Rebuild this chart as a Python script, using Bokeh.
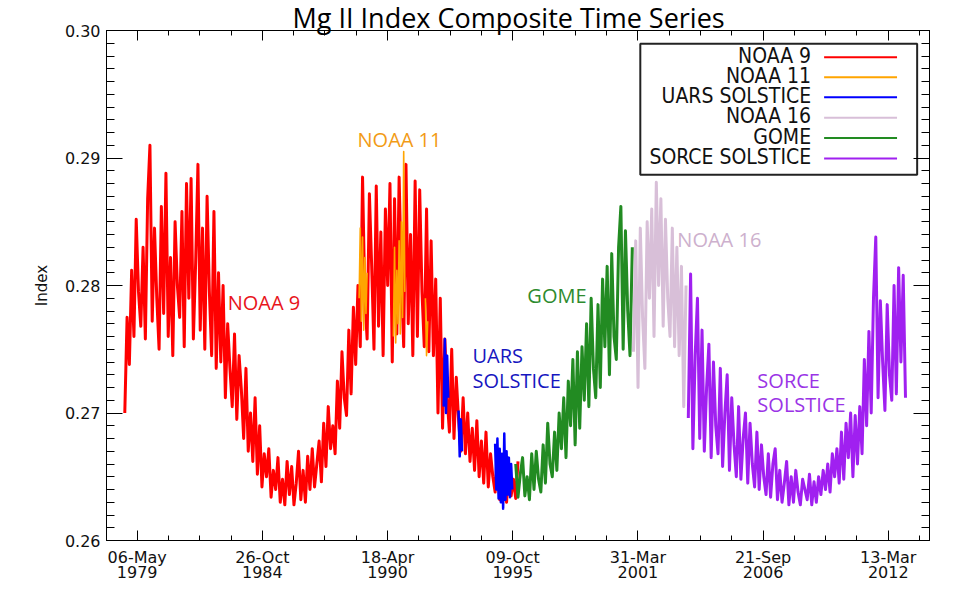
import numpy as np
import pandas as pd
from bokeh.plotting import figure
from bokeh.models import Range1d, FixedTicker, LinearAxis, PrintfTickFormatter, Title
from bokeh.core.properties import value
from bokeh.embed import file_html
from bokeh.resources import INLINE

nan = float("nan")

TITLE = "Mg II Index Composite Time Series"
Y_LABEL = "Index"
series_names = ["NOAA 9", "NOAA 11", "UARS SOLSTICE", "NOAA 16", "GOME", "SORCE SOLSTICE"]
series_colors = ["#FF0000", "#FFA500", "#0000FF", "#D8BFD8", "#228B22", "#A020F0"]

x_start = "1978-01-01"
x_end = "2014-01-01"
first_tick = "1979-05-06"
tick_days = 2000
minor_days = 500
y_ticks = [0.26, 0.27, 0.28, 0.29, 0.30]

step = 0.1  # years between sampled readings

noaa9_start = 1978.8
noaa9 = [
    0.2700, 0.2775, 0.2738,
    0.2812, 0.2760, 0.2852, 0.2795, 0.2768,
    0.2830, 0.2758, 0.2868, 0.2910, 0.2772,
    0.2845, 0.2790, 0.2750, 0.2862, 0.2778,
    0.2888, 0.2760, 0.2822, 0.2745, 0.2850,
    0.2800, 0.2775, 0.2858, 0.2752, 0.2880,
    0.2790, 0.2884, 0.2758, 0.2818, 0.2895,
    0.2765, 0.2845, 0.2750, 0.2870, 0.2795,
    0.2745, 0.2858, 0.2735, 0.2810, 0.2740,
    0.2800, 0.2712, 0.2770, 0.2735, 0.2705,
    0.2762, 0.2695, 0.2745, 0.2718, 0.2680,
    0.2735, 0.2670, 0.2700, 0.2662, 0.2712,
    0.2652, 0.2690, 0.2642, 0.2668, 0.2650,
    0.2672, 0.2634, 0.2655, 0.2640, 0.2665,
    0.2630, 0.2648, 0.2628, 0.2662, 0.2636,
    0.2658, 0.2628, 0.2645, 0.2670, 0.2632,
    0.2655, 0.2630, 0.2666, 0.2640, 0.2672,
    0.2642, 0.2660, 0.2678, 0.2646, 0.2692,
    0.2658, 0.2705, 0.2672, 0.2690, 0.2668,
    0.2725, 0.2688, 0.2748, 0.2712, 0.2698,
    0.2765, 0.2715, 0.2783, 0.2738, 0.2800,
    0.2752, 0.2885, 0.2790, 0.2758, 0.2872,
    0.2815, 0.2750, 0.2878, 0.2768, 0.2842,
    0.2745, 0.2860, 0.2800, 0.2880, 0.2740,
    0.2868, 0.2762, 0.2885, 0.2805, 0.2752,
    0.2895, 0.2770, 0.2840, 0.2745, 0.2882,
    0.2760, 0.2875, 0.2795, 0.2752, 0.2860,
    0.2748, 0.2835, 0.2745, 0.2805, 0.2700,
    0.2790, 0.2688, 0.2758, 0.2712, 0.2685,
    0.2750, 0.2680, 0.2728, 0.2695, 0.2670,
    0.2712, 0.2668, 0.2700, 0.2662, 0.2688,
    0.2655, 0.2694, 0.2650, 0.2678, 0.2645,
    0.2685, 0.2642, 0.2668, 0.2650, 0.2638,
    0.2672, 0.2632, 0.2658, 0.2640, 0.2630,
    0.2660, 0.2635, 0.2648, 0.2633, 0.2662,
]

noaa11_t = [1989.05, 1989.10, 1989.15, 1989.20, 1989.25, 1989.30, 1989.35, 1989.40,
            1990.00,
            1990.55, 1990.60, 1990.65, 1990.70, 1990.75, 1990.80, 1990.85, 1990.90,
            1990.95, 1991.00, 1991.05,
            1991.50,
            1991.95, 1992.00, 1992.05]
noaa11 = [0.2790, 0.2845, 0.2772, 0.2838, 0.2765, 0.2822, 0.2778, 0.2810,
          nan,
          0.2760, 0.2830, 0.2755, 0.2812, 0.2770, 0.2835, 0.2762, 0.2850,
          0.2775, 0.2905, 0.2795,
          nan,
          0.2790, 0.2745, 0.2772]

uars_t = [1992.75, 1992.80, 1992.85, 1992.90, 1992.95,
          1993.20,
          1993.40, 1993.45, 1993.50, 1993.55,
          1994.50,
          1995.00, 1995.05, 1995.10, 1995.15, 1995.20, 1995.25, 1995.30, 1995.35,
          1995.40, 1995.45, 1995.50, 1995.55, 1995.60, 1995.65, 1995.70, 1995.75]
uars = [0.2705, 0.2758, 0.2700, 0.2745, 0.2712,
        nan,
        0.2702, 0.2666, 0.2695, 0.2670,
        nan,
        0.2676, 0.2640, 0.2680, 0.2633, 0.2672, 0.2630, 0.2668, 0.2625,
        0.2684, 0.2632, 0.2670, 0.2636, 0.2665, 0.2634, 0.2660, 0.2640]

gome_start = 1995.9
gome = [
    0.2660, 0.2634,
    0.2652, 0.2665, 0.2635, 0.2650, 0.2632,
    0.2668, 0.2640, 0.2670, 0.2648, 0.2638,
    0.2675, 0.2645, 0.2692, 0.2660, 0.2650,
    0.2685, 0.2655, 0.2700, 0.2672, 0.2712,
    0.2665, 0.2725, 0.2690, 0.2742, 0.2675,
    0.2748, 0.2688, 0.2752, 0.2710, 0.2770,
    0.2705, 0.2790, 0.2735, 0.2712, 0.2785,
    0.2720, 0.2805, 0.2752, 0.2815, 0.2730,
    0.2825, 0.2760, 0.2742, 0.2830, 0.2862,
    0.2750, 0.2843, 0.2780, 0.2745, 0.2830,
]

noaa16_start = 2001.05
noaa16 = [
    0.2748, 0.2835, 0.2720, 0.2845, 0.2775,
    0.2735, 0.2850, 0.2790, 0.2860, 0.2760,
    0.2881, 0.2800, 0.2868, 0.2768, 0.2852,
    0.2790, 0.2760, 0.2845, 0.2752, 0.2830,
    0.2745, 0.2815, 0.2705, 0.2800,
]

sorce_start = 2003.45
sorce = [
    0.2696, 0.2809, 0.2672, 0.2745, 0.2790, 0.2680,
    0.2765, 0.2670, 0.2720, 0.2754, 0.2665,
    0.2740, 0.2690, 0.2668, 0.2735, 0.2658,
    0.2700, 0.2730, 0.2655, 0.2712, 0.2675,
    0.2650, 0.2705, 0.2648, 0.2680, 0.2700,
    0.2645, 0.2692, 0.2660, 0.2642, 0.2685,
    0.2640, 0.2675, 0.2650, 0.2636, 0.2668,
    0.2634, 0.2660, 0.2672, 0.2632, 0.2655,
    0.2630, 0.2645, 0.2662, 0.2628, 0.2650,
    0.2630, 0.2655, 0.2638, 0.2628, 0.2648,
    0.2640, 0.2632, 0.2652, 0.2628, 0.2646,
    0.2630, 0.2650, 0.2636, 0.2655, 0.2640,
    0.2660, 0.2638, 0.2668, 0.2650, 0.2672,
    0.2645, 0.2685, 0.2648, 0.2692, 0.2665,
    0.2700, 0.2650, 0.2698, 0.2660, 0.2705,
    0.2668, 0.2742, 0.2690, 0.2764, 0.2700,
    0.2790, 0.2838, 0.2712, 0.2788, 0.2740,
    0.2702, 0.2785, 0.2730, 0.2710, 0.2800,
    0.2715, 0.2814, 0.2740, 0.2808, 0.2712,
]

# annotation labels (text, x in years, y in index units)
ann_text = ["NOAA 9", "NOAA 11", "UARS", "SOLSTICE", "GOME", "NOAA 16", "SORCE", "SOLSTICE"]
ann_x = [1983.30, 1988.98, 1994.01, 1994.01, 1996.41, 2002.97, 2006.47, 2006.47]
ann_y = [0.27865, 0.29144, 0.27449, 0.27252, 0.27920, 0.28359, 0.27252, 0.27066]
ann_color = ["#E8141B", "#F29B16", "#1616C0", "#1616C0", "#2E8B2E", "#CDB0CD", "#9A34E6", "#9A34E6"]


def dec_year(ts):
    n = 366 if ts.is_leap_year else 365
    return ts.year + (ts.dayofyear - 1) / n


def years(start, n):
    return start + step * np.arange(n)


x0 = dec_year(pd.Timestamp(x_start))
x1 = dec_year(pd.Timestamp(x_end))

p = figure(width=952, height=592, title=None,
           x_range=Range1d(x0, x1), y_range=Range1d(y_ticks[0], y_ticks[-1]),
           output_backend="svg", toolbar_location=None,
           min_border_left=106, min_border_right=23, min_border_top=30, min_border_bottom=52)
p.grid.visible = False
p.outline_line_color = "black"
p.background_fill_color = "white"
p.border_fill_color = "white"

# ---- x ticks
t0 = pd.Timestamp(first_tick)
tend = pd.Timestamp(x_end)
major_dates = []
k = 0
while t0 + pd.Timedelta(days=tick_days * k) <= tend:
    major_dates.append(t0 + pd.Timedelta(days=tick_days * k))
    k += 1
minor_dates = []
k = 0
while t0 + pd.Timedelta(days=minor_days * k) <= tend:
    minor_dates.append(t0 + pd.Timedelta(days=minor_days * k))
    k += 1
xt_major = [dec_year(d) for d in major_dates]
xt_minor = [dec_year(d) for d in minor_dates]
overrides = {dec_year(d): d.strftime("%d-%b") + "\n" + d.strftime("%Y") for d in major_dates}
y_minor = [round(y_ticks[0] + 0.001 * i, 4) for i in range(41)]

TICK_FONT = "DejaVu Sans"

xa = p.xaxis[0]
xa.ticker = FixedTicker(ticks=xt_major, minor_ticks=xt_minor)
xa.major_label_overrides = overrides
xa.major_tick_in = 10
xa.major_tick_out = 0
xa.minor_tick_in = 5
xa.minor_tick_out = 0
xa.major_label_standoff = 7
xa.major_label_text_font = TICK_FONT
xa.major_label_text_font_size = "16px"
xa.major_label_text_color = "#111111"
xa.major_label_text_line_height = 0.82
xa.axis_line_color = "black"

ya = p.yaxis[0]
ya.ticker = FixedTicker(ticks=y_ticks, minor_ticks=y_minor)
ya.formatter = PrintfTickFormatter(format="%.2f")
ya.major_tick_in = 16
ya.major_tick_out = 0
ya.minor_tick_in = 8
ya.minor_tick_out = 0
ya.major_label_standoff = 6
ya.major_label_text_font = TICK_FONT
ya.major_label_text_font_size = "16px"
ya.major_label_text_color = "#111111"
ya.axis_label = Y_LABEL
ya.axis_label_text_font = TICK_FONT
ya.axis_label_text_font_size = "15px"
ya.axis_label_text_font_style = "normal"
ya.axis_label_text_color = "#111111"
ya.axis_label_standoff = 11

top = LinearAxis(ticker=FixedTicker(ticks=xt_major, minor_ticks=xt_minor),
                 major_tick_in=10, major_tick_out=0, minor_tick_in=5, minor_tick_out=0,
                 major_label_overrides={t: "" for t in xt_major},
                 major_label_text_font_size="1px", major_label_standoff=0)
p.add_layout(top, "above")
right = LinearAxis(ticker=FixedTicker(ticks=y_ticks, minor_ticks=y_minor),
                   major_tick_in=16, major_tick_out=0, minor_tick_in=8, minor_tick_out=0,
                   major_label_overrides={t: "" for t in y_ticks},
                   major_label_text_font_size="1px", major_label_standoff=0)
p.add_layout(right, "right")

# ---- title (outside the frame, pulled close with a negative standoff)
p.add_layout(Title(text=TITLE, align="left", offset=186, text_font="Open Sans",
                   text_font_size="27px", text_font_style="normal",
                   text_color="black", standoff=-11), "above")

# ---- data
lw = 3
p.line(years(noaa9_start, len(noaa9)), noaa9, line_color=series_colors[0], line_width=lw, line_join="round")
p.line(noaa11_t, noaa11, line_color=series_colors[1], line_width=1.6, line_join="round")
p.line(uars_t, uars, line_color=series_colors[2], line_width=2.5, line_join="round")
p.line(years(gome_start, len(gome)), gome, line_color=series_colors[4], line_width=lw, line_join="round")
p.line(years(noaa16_start, len(noaa16)), noaa16, line_color=series_colors[3], line_width=lw, line_join="round")
p.line(years(sorce_start, len(sorce)), sorce, line_color=series_colors[5], line_width=lw, line_join="round")

# ---- annotations
p.text(x=ann_x, y=ann_y, text=ann_text, text_color=ann_color,
       text_font=value("Open Sans"), text_font_size="20px",
       text_align="left", text_baseline="alphabetic")

# ---- legend (label left, line sample right)
leg_left, leg_right, leg_top, leg_bottom = 2001.35, 2013.46, 0.29896, 0.28869
leg_text_x = 2008.82
leg_line_x0, leg_line_x1 = 2009.39, 2012.58
leg_text_y = [0.29801, 0.29644, 0.29487, 0.29328, 0.29167, 0.29008]
leg_line_y = [0.29790, 0.29633, 0.29476, 0.29316, 0.29156, 0.28997]
p.quad(left=[leg_left], right=[leg_right], top=[leg_top], bottom=[leg_bottom],
       fill_color="white", line_color="#222222", line_width=2)
p.text(x=[leg_text_x] * len(series_names), y=leg_text_y, text=series_names,
       text_align="right", text_baseline="alphabetic",
       text_font=value("DejaVu Sans Condensed"), text_font_size="21px", text_color="#111111")
p.segment(x0=[leg_line_x0] * 6, x1=[leg_line_x1] * 6, y0=leg_line_y, y1=leg_line_y,
          line_color=series_colors, line_width=2)

open("out.html", "w").write(file_html(p, INLINE))
